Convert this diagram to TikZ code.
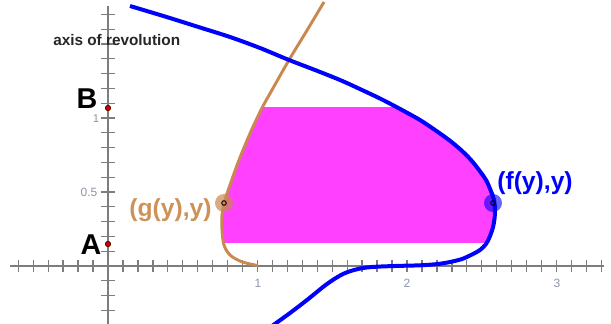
\documentclass[tikz,border=0pt]{standalone}
\usepackage{fontspec}
\setmainfont{Liberation Sans}
\usetikzlibrary{calc}
\definecolor{fblue}{RGB}{0,0,255}
\definecolor{gbrown}{RGB}{200,136,78}
\definecolor{glabel}{RGB}{206,146,88}
\definecolor{fillpink}{RGB}{255,64,255}
\definecolor{axisgray}{RGB}{125,125,125}
\definecolor{ticklab}{RGB}{140,150,165}
\definecolor{dotred}{RGB}{210,0,0}
\tikzset{
  bluecurve/.style={insert path={plot[smooth,tension=0.55] coordinates {
    (130,6) (165,16.5) (200,27.5) (230,37) (260,48) (289,60) (315,70) (340,80)
    (362,90) (383,100) (402,110) (420,120) (435,130) (449,140) (461,150)
    (471,160) (479,170) (486,180) (490.5,190) (494,200) (495,212) (493.5,225)
    (490,236) (486,244) (480,250) (473,254) (462,259) (450,262) (438,264)
    (420,265.3) (395,266) (372,267) (358,269) (343,274) (327,284) (307,300)
    (290,313) (272,326)}}},
  browncurve/.style={insert path={plot[smooth,tension=0.55] coordinates {
    (324,2) (306,32) (289,60) (272,90) (262,108) (252,129) (243,150) (236,168)
    (230,185) (225,200) (222,215) (222,230) (224,245) (230,255) (240,261)
    (250,264) (258,265.5)}}},
  axisline/.style={draw=axisgray, line width=1.4pt},
  tickline/.style={draw=axisgray, line width=1pt},
  ticklabel/.style={text=ticklab, font=\fontsize{9}{10}\selectfont, inner sep=0pt},
  bigletter/.style={text=black, font=\bfseries\fontsize{21.5}{24}\selectfont, inner sep=0pt, anchor=base},
  ptlabel/.style={font=\bfseries\fontsize{18.5}{21}\selectfont, inner sep=0pt, anchor=base},
  reddot/.style={fill=dotred, draw=black!60!red, line width=0.5pt},
}
\begin{document}
\begin{tikzpicture}[x=0.75pt,y=-0.75pt]
\useasboundingbox (0,0) rectangle (611,324);

% pink region
\begin{scope}
  \clip (0,108) rectangle (611,243);
  \clip [browncurve] -- (611,268) -- (611,0) -- cycle;
  \fill[fillpink] [bluecurve] -- (0,330) -- (0,0) -- cycle;
\end{scope}

% axes
\coordinate (O) at (108,266);
\coordinate (xl) at (10,266);
\coordinate (xr) at (604,266);
\coordinate (yt) at (108,6);
\coordinate (yb) at (108,324);
\draw[axisline] (xl) -- (xr);
\draw[axisline] (yt) -- (yb);
\foreach \k in {-6,...,33} {
  \draw[tickline] ($(O)+(14.95*\k,-6)$) -- ++(0,12);
}
\foreach \k in {-4,...,17} {
  \draw[tickline] ($(O)+(-7,-14.8*\k)$) -- ++(14,0);
}
\node[ticklabel] (x1) at (258,283) {1};
\node[ticklabel] (x2) at (407,283) {2};
\node[ticklabel] (x3) at (557,283) {3};
\node[ticklabel] (y05) at (89,192) {0.5};
\node[ticklabel, font=\fontsize{8.5}{10}\selectfont] (y1) at (96,118.5) {1};

% curves
\draw[gbrown, line width=2.2pt] [browncurve];
\draw[fblue, line width=3pt] [bluecurve];

% axis label
\node[font=\bfseries\fontsize{11.5}{13}\selectfont, text=black!85, anchor=base west, inner sep=0pt] (axlab) at (53,46) {axis of revolution};

% A and B
\coordinate (B) at (108,108);
\coordinate (A) at (108,244);
\fill[reddot] (B) circle[radius=2.6];
\fill[reddot] (A) circle[radius=2.6];
\draw[draw=black!60!red, line width=0.5pt] (B) circle[radius=2.6];
\draw[draw=black!60!red, line width=0.5pt] (A) circle[radius=2.6];
\node[bigletter] (Blab) at (87,109) {B};
\node[bigletter] (Alab) at (91,255) {A};

% moving points
\coordinate (F) at (493,203);
\coordinate (G) at (224,203);
\fill[fblue, opacity=0.6] (F) circle[radius=9];
\fill[gbrown, opacity=0.7] (G) circle[radius=9];
\draw[black, line width=0.7pt] (F) circle[radius=2.3];
\draw[black, line width=0.7pt] (G) circle[radius=2.3];
\node[ptlabel, text=fblue] (Flab) at (535,190) {(f(y),y)};
\node[ptlabel, text=glabel] (Glab) at (170.5,217) {(g(y),y)};
\end{tikzpicture}
\end{document}
